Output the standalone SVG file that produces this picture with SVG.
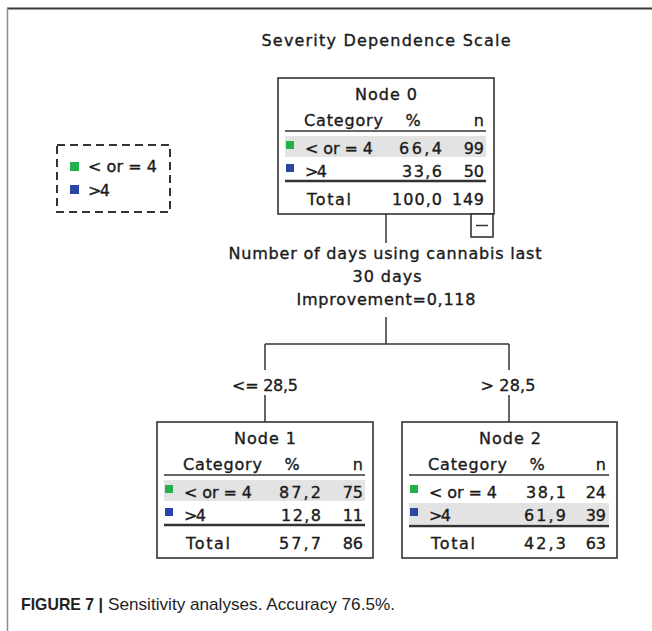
<svg xmlns="http://www.w3.org/2000/svg" width="652" height="631" viewBox="0 0 652 631">
  <style>
    text { font-family: "DejaVu Sans", Verdana, sans-serif; font-size: 16px; fill: #1a1a1a; stroke: #1a1a1a; stroke-width: 0.35; }
    .mid { text-anchor: middle; }
    .end { text-anchor: end; }
    .box { fill: #ffffff; stroke: #333333; stroke-width: 1.6; }
    .rule { stroke: #333333; stroke-width: 1.5; }
    .rule2 { stroke: #333333; stroke-width: 2.5; }
    .band { fill: #e3e3e3; }
    .green { fill: #22b14c; }
    .blue { fill: #2b45a6; }
    .conn line { stroke: #333333; stroke-width: 1.5; fill: none; }
    .cap { font-family: "Liberation Sans", Arial, sans-serif; font-size: 17px; fill: #222222; stroke: none; }
  </style>

  <!-- frame -->
  <line x1="7" y1="8.5" x2="652" y2="8.5" stroke="#3a3a3a" stroke-width="2"/>
  <line x1="7.5" y1="8" x2="7.5" y2="631" stroke="#8a8a8a" stroke-width="1.5"/>

  <text class="mid" x="386" y="46" textLength="249" lengthAdjust="spacing">Severity Dependence Scale</text>

  <!-- legend -->
  <g id="legend">
    <rect x="57" y="145" width="113" height="67" fill="none" stroke="#333333" stroke-width="2" stroke-dasharray="8 5"/>
    <rect class="green" x="70" y="162" width="9" height="9"/>
    <text x="88" y="172" textLength="69" lengthAdjust="spacing">&lt; or = 4</text>
    <rect class="blue" x="70" y="185" width="9" height="9"/>
    <text x="88" y="196" textLength="22" lengthAdjust="spacing">&gt;4</text>
  </g>

  <!-- connectors -->
  <g id="connectors" class="conn">
    <line x1="386" y1="214" x2="386" y2="243"/>
    <line x1="386" y1="317" x2="386" y2="344"/>
    <line x1="265" y1="344" x2="509" y2="344"/>
    <line x1="265" y1="344" x2="265" y2="370"/>
    <line x1="509" y1="344" x2="509" y2="370"/>
    <line x1="265" y1="395" x2="265" y2="422"/>
    <line x1="509" y1="395" x2="509" y2="422"/>
  </g>

  <!-- split description -->
  <g id="split">
    <text class="mid" x="385" y="259" textLength="313" lengthAdjust="spacing">Number of days using cannabis last</text>
    <text class="mid" x="387" y="282" textLength="69" lengthAdjust="spacing">30 days</text>
    <text class="mid" x="386" y="305" textLength="179" lengthAdjust="spacing">Improvement=0,118</text>
    <text class="mid" x="265" y="391" textLength="66" lengthAdjust="spacing">&lt;= 28,5</text>
    <text class="mid" x="508" y="391" textLength="55" lengthAdjust="spacing">&gt; 28,5</text>
  </g>

  <!-- Node 0 -->
  <g id="node0" transform="translate(278,78)">
    <rect class="box" x="0" y="0" width="216" height="136"/>
    <text class="mid" x="108" y="22" textLength="62" lengthAdjust="spacing">Node 0</text>
    <text x="26" y="48" textLength="79" lengthAdjust="spacing">Category</text>
    <text class="mid" x="135" y="48">%</text>
    <text class="end" x="206" y="48">n</text>
    <line class="rule" x1="7" y1="53" x2="208" y2="53"/>
    <rect class="band" x="7" y="58" width="201" height="21"/>
    <rect class="green" x="8" y="63" width="8" height="8"/>
    <text x="27" y="76" textLength="68" lengthAdjust="spacing">&lt; or = 4</text>
    <text class="end" x="164" y="76" textLength="43" lengthAdjust="spacing">66,4</text>
    <text class="end" x="206" y="76">99</text>
    <rect class="blue" x="8" y="86" width="8" height="8"/>
    <text x="27" y="99" textLength="22" lengthAdjust="spacing">&gt;4</text>
    <text class="end" x="164" y="99" textLength="40" lengthAdjust="spacing">33,6</text>
    <text class="end" x="206" y="99">50</text>
    <line class="rule2" x1="7" y1="103" x2="208" y2="103"/>
    <text x="29" y="127" textLength="44" lengthAdjust="spacing">Total</text>
    <text class="end" x="164" y="127" textLength="50" lengthAdjust="spacing">100,0</text>
    <text class="end" x="206" y="127" textLength="32" lengthAdjust="spacing">149</text>
    <!-- collapse toggle -->
    <rect class="box" x="193" y="136" width="22" height="23"/>
    <line class="rule" x1="198" y1="147.5" x2="210" y2="147.5"/>
  </g>

  <!-- Node 1 -->
  <g id="node1" transform="translate(157,422)">
    <rect class="box" x="0" y="0" width="216" height="136"/>
    <text class="mid" x="108" y="22" textLength="62" lengthAdjust="spacing">Node 1</text>
    <text x="26" y="48" textLength="79" lengthAdjust="spacing">Category</text>
    <text class="mid" x="135" y="48">%</text>
    <text class="end" x="206" y="48">n</text>
    <line class="rule" x1="7" y1="53" x2="208" y2="53"/>
    <rect class="band" x="7" y="58" width="201" height="21"/>
    <rect class="green" x="8" y="63" width="8" height="8"/>
    <text x="27" y="76" textLength="68" lengthAdjust="spacing">&lt; or = 4</text>
    <text class="end" x="164" y="76" textLength="42" lengthAdjust="spacing">87,2</text>
    <text class="end" x="206" y="76">75</text>
    <rect class="blue" x="8" y="86" width="8" height="8"/>
    <text x="27" y="99" textLength="22" lengthAdjust="spacing">&gt;4</text>
    <text class="end" x="164" y="99" textLength="40" lengthAdjust="spacing">12,8</text>
    <text class="end" x="206" y="99">11</text>
    <line class="rule2" x1="7" y1="103" x2="208" y2="103"/>
    <text x="29" y="127" textLength="44" lengthAdjust="spacing">Total</text>
    <text class="end" x="164" y="127" textLength="42" lengthAdjust="spacing">57,7</text>
    <text class="end" x="206" y="127">86</text>
  </g>

  <!-- Node 2 -->
  <g id="node2" transform="translate(402,422)">
    <rect class="box" x="0" y="0" width="215" height="136"/>
    <text class="mid" x="108" y="22" textLength="62" lengthAdjust="spacing">Node 2</text>
    <text x="26" y="48" textLength="79" lengthAdjust="spacing">Category</text>
    <text class="mid" x="135" y="48">%</text>
    <text class="end" x="204" y="48">n</text>
    <line class="rule" x1="7" y1="53" x2="207" y2="53"/>
    <rect class="band" x="7" y="81" width="200" height="21"/>
    <rect class="green" x="8" y="63" width="8" height="8"/>
    <text x="27" y="76" textLength="68" lengthAdjust="spacing">&lt; or = 4</text>
    <text class="end" x="164" y="76" textLength="40" lengthAdjust="spacing">38,1</text>
    <text class="end" x="204" y="76">24</text>
    <rect class="blue" x="8" y="86" width="8" height="8"/>
    <text x="27" y="99" textLength="22" lengthAdjust="spacing">&gt;4</text>
    <text class="end" x="164" y="99" textLength="42" lengthAdjust="spacing">61,9</text>
    <text class="end" x="204" y="99">39</text>
    <line class="rule2" x1="7" y1="104" x2="207" y2="104"/>
    <text x="29" y="127" textLength="44" lengthAdjust="spacing">Total</text>
    <text class="end" x="164" y="127" textLength="42" lengthAdjust="spacing">42,3</text>
    <text class="end" x="204" y="127">63</text>
  </g>

  <!-- caption -->
  <text class="cap" x="21" y="610" font-weight="bold" textLength="82" lengthAdjust="spacingAndGlyphs">FIGURE 7 |</text>
  <text class="cap" x="108" y="610" textLength="287" lengthAdjust="spacingAndGlyphs">Sensitivity analyses. Accuracy 76.5%.</text>
</svg>
